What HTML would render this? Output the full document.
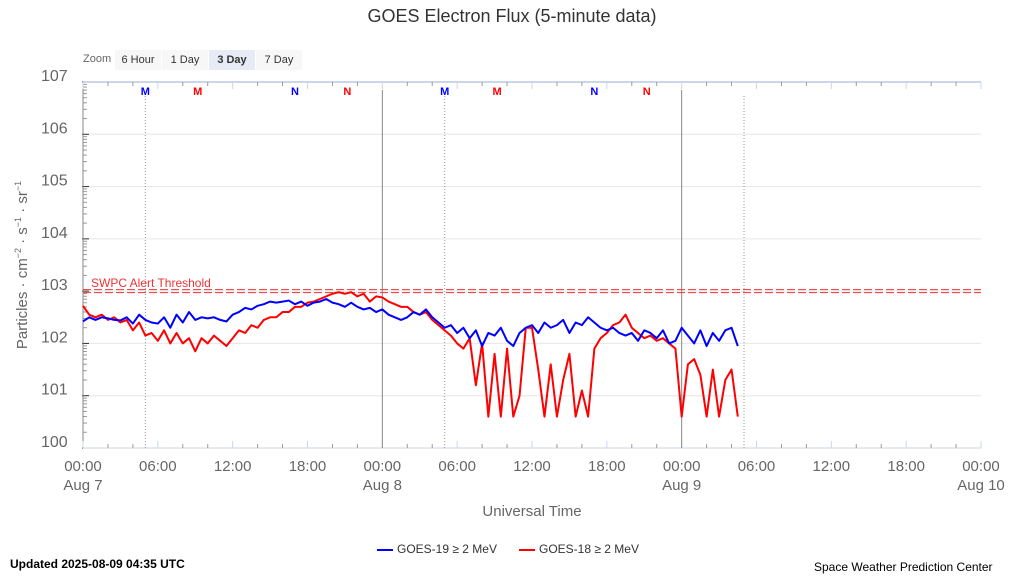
<!DOCTYPE html>
<html><head><meta charset="utf-8"><style>
body{margin:0;width:1024px;height:576px;background:#fff;font-family:"Liberation Sans","DejaVu Sans",sans-serif;overflow:hidden;position:relative}
.a{position:absolute;white-space:nowrap}
.btn{position:absolute;top:50px;height:20px;line-height:20px;font-size:11px;color:#333;background:#f7f7f7;text-align:center}
</style></head><body>
<div class="a" style="left:0;width:1024px;text-align:center;top:6px;font-size:18px;color:#333">GOES Electron Flux (5-minute data)</div>
<div class="a" style="left:83px;top:53px;font-size:11px;color:#666">Zoom</div>
<div class="btn" style="left:115px;width:46px">6 Hour</div>
<div class="btn" style="left:162px;width:46px">1 Day</div>
<div class="btn" style="left:209px;width:46px;background:#e6ebf5;font-weight:bold">3 Day</div>
<div class="btn" style="left:256px;width:46px">7 Day</div>
<svg id="c" width="1024" height="576" style="position:absolute;left:0;top:0"></svg>
<div class="a" style="left:22px;top:265px;font-size:15px;color:#666;transform:translate(-50%,-50%) rotate(-90deg)">Particles · cm<sup style="font-size:9px">−2</sup> · s<sup style="font-size:9px">−1</sup> · sr<sup style="font-size:9px">−1</sup></div>
<div class="a" style="left:0;width:1064px;text-align:center;top:503px;font-size:15px;color:#666">Universal Time</div>
<div class="a" style="left:377px;top:542px;font-size:12px;color:#333"><span style="display:inline-block;width:16px;height:2px;background:#0000ff;vertical-align:middle;margin-right:4px"></span>GOES-19 ≥ 2 MeV</div>
<div class="a" style="left:519px;top:542px;font-size:12px;color:#333"><span style="display:inline-block;width:16px;height:2px;background:#ff0000;vertical-align:middle;margin-right:4px"></span>GOES-18 ≥ 2 MeV</div>
<div class="a" style="left:10px;top:557px;font-size:12px;font-weight:bold;color:#000">Updated 2025-08-09 04:35 UTC</div>
<div class="a" style="left:814px;top:560px;font-size:12px;color:#000">Space Weather Prediction Center</div>
<script>
const yTicks=[0,1,2,3,4,5,6,7];
const xTickHours=[0,6,12,18,24,30,36,42,48,54,60,66,72];
const xTickLabels=["00:00","06:00","12:00","18:00","00:00","06:00","12:00","18:00","00:00","06:00","12:00","18:00","00:00"];
const xDateLabels={0:"Aug 7",24:"Aug 8",48:"Aug 9",72:"Aug 10"};
const threshold=3;
const stepHours=0.5;
const goes19=[2.42,2.5,2.45,2.5,2.48,2.45,2.44,2.5,2.38,2.55,2.45,2.4,
2.38,2.5,2.3,2.55,2.4,2.6,2.45,2.5,2.48,2.5,2.45,2.42,
2.55,2.6,2.68,2.65,2.72,2.75,2.8,2.78,2.8,2.82,2.75,2.8,
2.72,2.78,2.8,2.85,2.78,2.75,2.7,2.78,2.7,2.65,2.68,2.6,
2.65,2.55,2.5,2.45,2.5,2.6,2.55,2.65,2.5,2.4,2.3,2.35,
2.2,2.3,2.1,2.25,1.95,2.2,2.15,2.3,2.05,1.95,2.2,2.3,
2.35,2.2,2.4,2.3,2.35,2.45,2.2,2.4,2.35,2.5,2.4,2.3,
2.25,2.3,2.2,2.15,2.2,2.05,2.25,2.2,2.1,2.25,2.0,2.05,
2.3,2.15,2.0,2.25,1.95,2.2,2.05,2.25,2.3,1.95];
const goes18=[2.72,2.55,2.5,2.55,2.45,2.5,2.4,2.45,2.25,2.4,2.15,2.2,
2.05,2.25,2.0,2.2,2.0,2.1,1.85,2.1,2.0,2.15,2.05,1.95,
2.1,2.25,2.2,2.35,2.3,2.45,2.5,2.5,2.6,2.6,2.7,2.7,
2.78,2.8,2.85,2.9,2.95,2.98,2.95,2.98,2.9,2.95,2.8,2.9,
2.88,2.8,2.75,2.7,2.7,2.6,2.55,2.6,2.45,2.35,2.25,2.15,
2.0,1.9,2.1,1.2,2.0,0.6,1.8,0.6,1.9,0.6,1.0,2.3,
2.3,1.5,0.6,1.6,0.6,1.3,1.8,0.6,1.1,0.6,1.9,2.1,
2.2,2.35,2.4,2.55,2.3,2.2,2.1,2.15,2.05,2.1,2.0,1.9,
0.6,1.6,1.7,1.4,0.6,1.5,0.6,1.3,1.5,0.6];
const mLabels=[{h:5,c:"#0000ff",t:"M"},{h:9.2,c:"#ff0000",t:"M"},{h:17,c:"#0000ff",t:"N"},{h:21.2,c:"#ff0000",t:"N"},{h:29,c:"#0000ff",t:"M"},{h:33.2,c:"#ff0000",t:"M"},{h:41,c:"#0000ff",t:"N"},{h:45.2,c:"#ff0000",t:"N"}];
const dotted=[5,29,53];
const solid=[24,48];

const L=83,R=981,T=82,B=448;
const X=h=>L+(R-L)*h/72, Y=v=>B-(B-T)*v/7;
const svg=document.getElementById('c'),NS="http://www.w3.org/2000/svg";
function mk(tag,at,name){const e=document.createElementNS(NS,tag);for(const k in at)e.setAttribute(k,at[k]);


svg.appendChild(e);return e;}
yTicks.forEach(v=>{
 if(v>0&&v<7)mk('line',{x1:L,x2:R,y1:Y(v),y2:Y(v),stroke:'#e6e6e6'},'y-gridline');
 const t=mk('text',{x:41,y:Y(v)-1,fill:'#666','font-size':16},'y-tick-label');t.textContent='10'+v;
 if(v<7)for(let k=2;k<10;k++){const yy=Y(v+Math.log10(k));mk('line',{x1:L,x2:L+4,y1:yy,y2:yy,stroke:'#999'},'y-minor-tick');}
 mk('line',{x1:L-1,x2:L+6,y1:Y(v),y2:Y(v),stroke:'#333'},'y-major-tick');
});
mk('line',{x1:L,x2:L,y1:T,y2:B,stroke:'#888'},'y-axis-line');
mk('line',{x1:L,x2:R,y1:T,y2:T,stroke:'#ccd6eb','stroke-width':2},'top-axis-line');
mk('line',{x1:L,x2:R,y1:B,y2:B,stroke:'#ccd6eb','stroke-width':1},'x-axis-line');
for(let h=0;h<=72;h+=2){const xx=X(h);const big=h%6==0;
 mk('line',{x1:xx,x2:xx,y1:B-(big?7:4),y2:B,stroke:big?'#ccd6eb':'#999'},'x-tick');
 mk('line',{x1:xx,x2:xx,y1:T,y2:T+(big?7:4),stroke:big?'#ccd6eb':'#999'},'top-tick');}
dotted.forEach(h=>mk('line',{x1:X(h),x2:X(h),y1:T+14,y2:B,stroke:'#999','stroke-dasharray':'1,2'},'local-noon-line'));
solid.forEach(h=>mk('line',{x1:X(h),x2:X(h),y1:T+8,y2:B,stroke:'#888'},'day-boundary-line'));
mLabels.forEach(m=>{const t=mk('text',{x:X(m.h),y:T+13,fill:m.c,'font-size':11,'font-weight':'bold','text-anchor':'middle'},'mn-label');t.textContent=m.t;});
xTickHours.forEach((h,i)=>{const t=mk('text',{x:X(h),y:471,fill:'#666','font-size':15,'text-anchor':'middle'},'x-tick-label');t.textContent=xTickLabels[i];
 if(xDateLabels[h]!==undefined){const d=mk('text',{x:X(h),y:490,fill:'#666','font-size':15,'text-anchor':'middle'},'x-date-label');d.textContent=xDateLabels[h];}});
mk('line',{x1:L,x2:R,y1:Y(threshold)-1.5,y2:Y(threshold)-1.5,stroke:'#e33','stroke-dasharray':'8,3'},'threshold-line');
mk('line',{x1:L,x2:R,y1:Y(threshold)+1.5,y2:Y(threshold)+1.5,stroke:'#e33','stroke-dasharray':'8,3'},'threshold-line');
const tl=mk('text',{x:91,y:Y(threshold)-4,fill:'#e33','font-size':12},'threshold-label');tl.textContent='SWPC Alert Threshold';
function series(arr,col,name){mk('polyline',{points:arr.map((v,i)=>X(i*stepHours)+','+Y(v)).join(' '),fill:'none',stroke:col,'stroke-width':2,'stroke-linejoin':'round'},name);}
series(goes18,'#ff0000','goes-18-line');
series(goes19,'#0000ff','goes-19-line');
</script>
</body></html>
